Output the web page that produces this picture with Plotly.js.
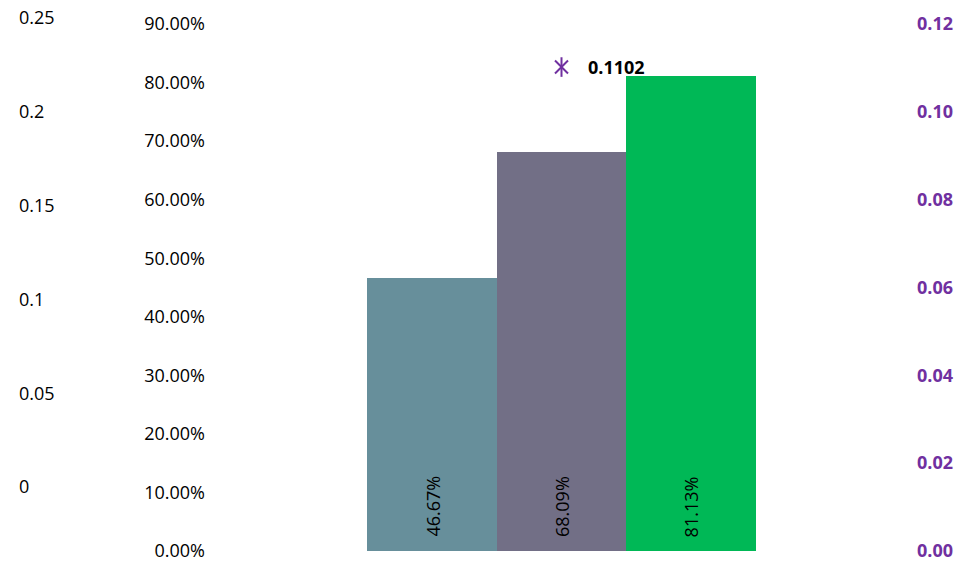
<!DOCTYPE html>
<html>
<head>
<meta charset="utf-8">
<script src="https://cdn.plot.ly/plotly-2.35.2.min.js"></script>
<style>html,body{margin:0;padding:0;background:#fff;}#chart{width:974px;height:566px;}</style>
</head>
<body>
<div id="chart"></div>
<script>
// Data
var categories = ["A", "B", "C"];
var barValues = [0.4667, 0.6809, 0.8113];
var barLabels = ["46.67%", "68.09%", "81.13%"];
var barColors = ["#678F9B", "#726F86", "#00B856"];
var pointCategory = ["B"];
var pointValue = [0.1102];
var pointLabel = ["0.1102"];

var FONT = "'Open Sans', sans-serif";

var traces = [
  {
    type: "bar",
    x: categories,
    y: barValues,
    width: 1,
    marker: { color: barColors, line: { width: 0 } },
    hoverinfo: "skip",
    showlegend: false,
    xaxis: "x",
    yaxis: "y"
  },
  {
    type: "scatter",
    mode: "markers",
    x: pointCategory,
    y: pointValue,
    marker: { symbol: "x-thin-open", size: 13, color: "#7030A0", line: { width: 2, color: "#7030A0" } },
    hoverinfo: "skip",
    showlegend: false,
    xaxis: "x",
    yaxis: "y2"
  },
  {
    type: "scatter",
    mode: "markers",
    x: pointCategory,
    y: pointValue,
    marker: { symbol: "line-ns-open", size: 14, color: "#7030A0", line: { width: 2, color: "#7030A0" } },
    hoverinfo: "skip",
    showlegend: false,
    xaxis: "x",
    yaxis: "y2"
  },
  {
    type: "scatter",
    mode: "markers",
    x: [],
    y: [],
    hoverinfo: "skip",
    showlegend: false,
    xaxis: "x",
    yaxis: "y3"
  }
];

var annotations = [];
for (var i = 0; i < categories.length; i++) {
  annotations.push({
    x: categories[i], y: 0, xref: "x", yref: "y",
    text: barLabels[i], showarrow: false, textangle: -90,
    xanchor: "center", yanchor: "bottom", yshift: 12,
    font: { family: FONT, size: 18, color: "#000" }
  });
}
for (var j = 0; j < pointCategory.length; j++) {
  annotations.push({
    x: pointCategory[j], y: pointValue[j], xref: "x", yref: "y2",
    text: "<b>" + pointLabel[j] + "</b>", showarrow: false,
    xanchor: "left", yanchor: "middle", xshift: 24,
    font: { family: FONT, size: 18, color: "#000" }
  });
}

var layout = {
  width: 974, height: 566,
  margin: { l: 0, r: 0, t: 10, b: 15, pad: 0 },
  paper_bgcolor: "#fff", plot_bgcolor: "#fff",
  bargap: 0,
  showlegend: false,
  font: { family: FONT, size: 18, color: "#000" },
  xaxis: {
    type: "category", domain: [238 / 974, 885 / 974], range: [-1.5, 3.5],
    showticklabels: false, showgrid: false, zeroline: false, showline: false, ticks: ""
  },
  yaxis: {
    range: [0, 0.9239], dtick: 0.1, tick0: 0, tickformat: ".2%",
    anchor: "free", position: 205 / 974, side: "left",
    showgrid: false, zeroline: false, showline: false, ticks: "",
    tickfont: { family: FONT, size: 18, color: "#000" }
  },
  yaxis2: {
    overlaying: "y", range: [0, 0.12319], dtick: 0.02, tick0: 0, tickformat: ".2f",
    anchor: "free", position: 916 / 974, side: "right",
    showgrid: false, zeroline: false, showline: false, ticks: "",
    tickfont: { family: FONT, size: 18, color: "#7030A0", weight: "bold" }
  },
  yaxis3: {
    overlaying: "y", range: [-0.0341, 0.2543], dtick: 0.05, tick0: 0,
    anchor: "free", position: 18 / 974, side: "right",
    showgrid: false, zeroline: false, showline: false, ticks: "",
    tickfont: { family: FONT, size: 18, color: "#000" }
  },
  annotations: annotations
};

Plotly.newPlot("chart", traces, layout, { staticPlot: true, displayModeBar: false });
</script>
</body>
</html>
